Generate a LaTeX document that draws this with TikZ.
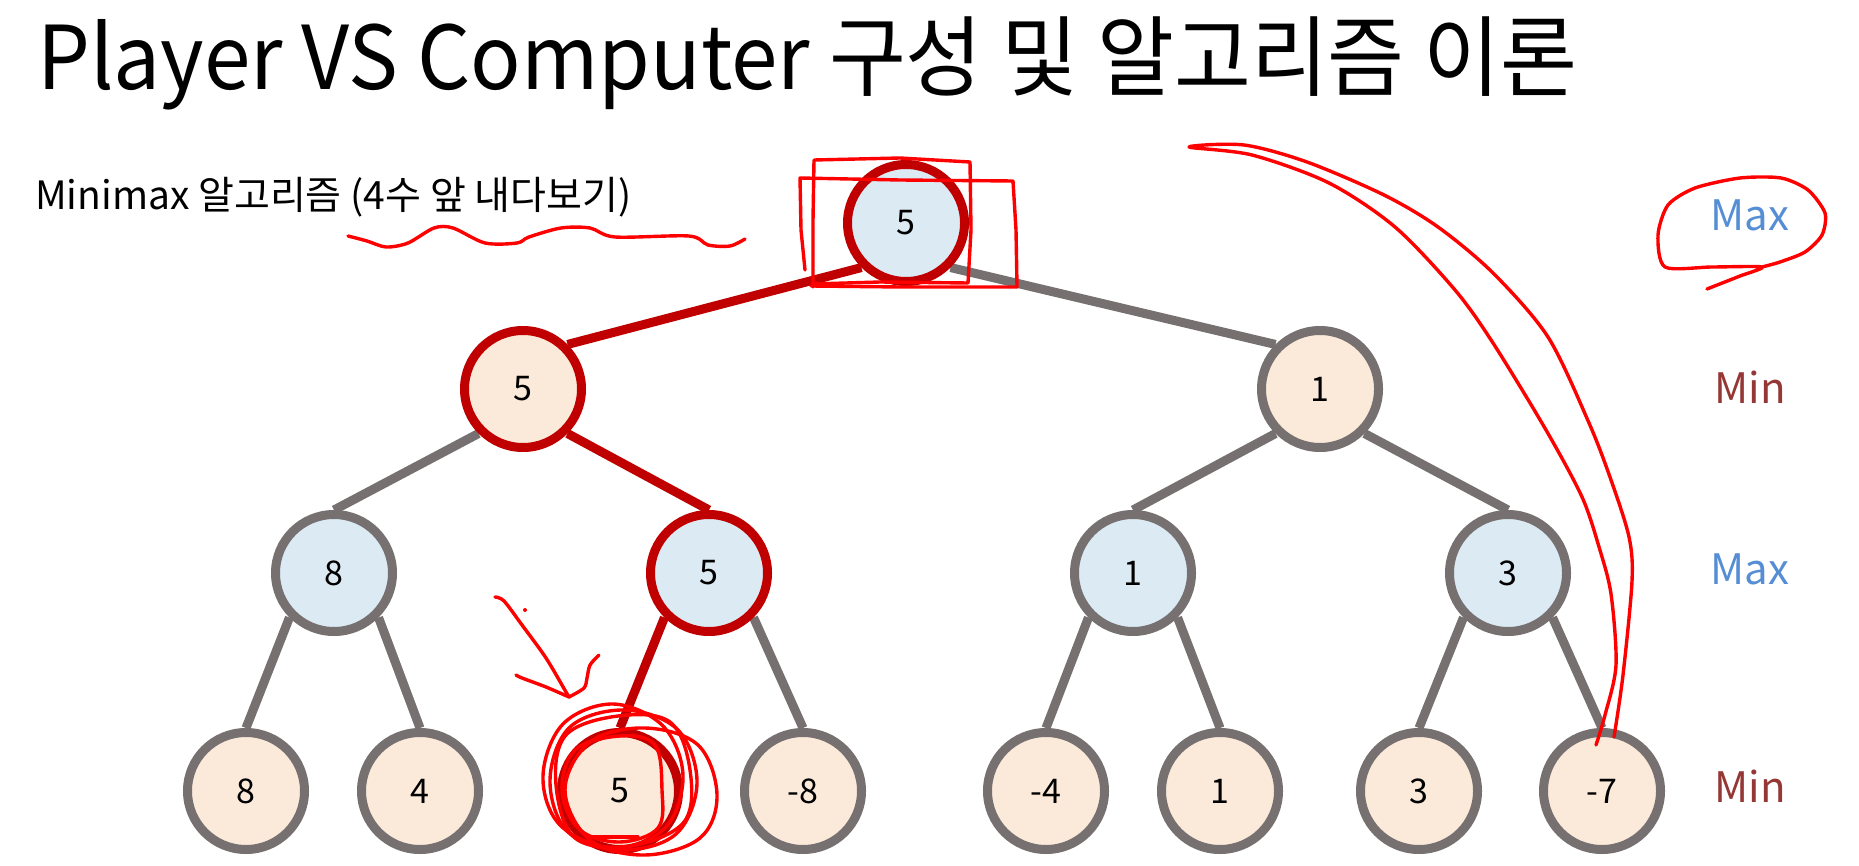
\documentclass[tikz,border=0pt]{standalone}
\usepackage{fontspec}
\setmainfont{Noto Sans CJK KR}
\usetikzlibrary{backgrounds}
\definecolor{graybd}{RGB}{118,112,112}
\definecolor{maxfill}{RGB}{219,234,243}
\definecolor{minfill}{RGB}{251,234,218}
\definecolor{hlred}{RGB}{192,0,0}
\definecolor{penred}{RGB}{255,0,0}
\definecolor{maxtxt}{RGB}{85,142,213}
\definecolor{mintxt}{RGB}{149,55,53}
\begin{document}
\begin{tikzpicture}[x=1pt,y=-1pt,
  tnode/.style={circle, minimum size=117pt, inner sep=0pt, line width=9pt, draw=graybd, font=\fontsize{34}{40}\selectfont},
  maxn/.style={tnode, fill=maxfill},
  minn/.style={tnode, fill=minfill},
  hl/.style={draw=hlred},
  link/.style={line width=9pt, draw=graybd},
  hllink/.style={line width=9pt, draw=hlred},
  pen/.style={draw=penred, line width=3.4pt, line cap=round, line join=round},
  maxlbl/.style={font=\fontsize{42}{50}\selectfont, anchor=base, text=maxtxt, inner sep=0pt},
  minlbl/.style={font=\fontsize{42}{50}\selectfont, anchor=base, text=mintxt, inner sep=0pt},
]
\useasboundingbox (0,0) rectangle (1859,866);

% title
\node[anchor=base west, inner sep=0pt, font=\fontsize{88}{100}\selectfont] (title) at (37,90) {\scalebox{0.95}[1]{Player VS Computer 구성 및 알고리즘 이론}};
\node[anchor=base west, inner sep=0pt, font=\fontsize{39}{46}\selectfont] (sub) at (35,210) {Minimax 알고리즘 (4수 앞 내다보기)};

% nodes
\node[maxn, hl] (r) at (906,223) {5};
\node[minn, hl] (a) at (523,389) {5};
\node[minn] (b) at (1320,389) {1};
\node[maxn] (a1) at (334,573) {8};
\node[maxn, hl] (a2) at (709,573) {5};
\node[maxn] (b1) at (1133,573) {1};
\node[maxn] (b2) at (1508,573) {3};
\node[minn] (l1) at (246,791) {8};
\node[minn] (l2) at (420,791) {4};
\node[minn, hl] (l3) at (620,791) {5};
\node[minn] (l4) at (803,791) {-8};
\node[minn] (l5) at (1046,791) {-4};
\node[minn] (l6) at (1220,791) {1};
\node[minn] (l7) at (1419,791) {3};
\node[minn] (l8) at (1602,791) {-7};

% level labels
\node[maxlbl] (m1) at (1750,231) {Max};
\node[minlbl] (m2) at (1750,403) {Min};
\node[maxlbl] (m3) at (1750,584) {Max};
\node[minlbl] (m4) at (1750,802) {Min};

\begin{scope}[on background layer]
\fill[white] (0,0) rectangle (1859,866);
\draw[hllink] (r.south west) -- (a.north east);
\draw[link] (r.south east) -- (b.north west);
\draw[link] (a.south west) -- (a1.north);
\draw[hllink] (a.south east) -- (a2.north);
\draw[link] (b.south west) -- (b1.north);
\draw[link] (b.south east) -- (b2.north);
\draw[link] (a1.south west) -- (l1.north);
\draw[link] (a1.south east) -- (l2.north);
\draw[hllink] (a2.south west) -- (l3.north);
\draw[link] (a2.south east) -- (l4.north);
\draw[link] (b1.south west) -- (l5.north);
\draw[link] (b1.south east) -- (l6.north);
\draw[link] (b2.south west) -- (l7.north);
\draw[link] (b2.south east) -- (l8.north);
\end{scope}

% hand-drawn annotations
% squiggle under subtitle
\draw[pen] plot[smooth, tension=0.5] coordinates {(348,236) (367,241) (386,247) (408,243) (434,228) (453,228) (485,243) (517,243) (529,237) (561,228) (590,228) (615,237) (689,236) (708,245) (730,246) (745,239)};
% rectangles around root
\draw[pen] (813,287) -- (813,220) -- (814,160) -- (900,158) -- (970,162) -- (971,230) -- (968,283) -- (880,282) -- (812,284);
\draw[pen] (805,270) -- (801,230) -- (800,178) -- (900,180) -- (1013,181) -- (1016,230) -- (1017,287) -- (900,287) -- (811,286);
% long arc towards -7
\draw[pen] plot[smooth, tension=0.5] coordinates {(1596,745) (1605,715) (1616,665) (1611,594) (1599,547) (1582,497) (1546,430) (1493,343) (1455,290) (1395,227) (1329,183) (1252,155) (1189,147) (1244,145) (1307,162) (1384,195) (1438,227) (1493,273) (1548,337) (1589,423) (1611,480) (1629,537) (1632,581) (1623,675) (1614,737)};
% loop around top Max
\draw[pen] plot[smooth, tension=0.45] coordinates {(1707,289) (1740,276) (1762,267) (1712,267) (1665,267) (1658,235) (1668,205) (1695,188) (1740,178) (1781,178) (1808,190) (1825,213) (1822,235) (1805,252) (1780,262) (1762,267)};
% arrow to leaf 5
\draw[pen] plot[smooth, tension=0.5] coordinates {(495,597) (504,601) (522,625) (546,658) (566,692) (569,697)};
\draw[pen] plot[smooth, tension=0.5] coordinates {(516,675) (522,678) (546,687) (569,697)};
\draw[pen] plot[smooth, tension=0.5] coordinates {(599,655) (590,665) (587,678) (584,688) (569,697)};
\fill[penred] (525,610) circle (2);
% scribbles around leaf 5
\draw[pen] plot[smooth cycle, tension=0.6] coordinates {(683,776) (663,726) (613,704) (563,724) (543,776) (560,825) (613,848) (665,828)};
\draw[pen] plot[smooth cycle, tension=0.6] coordinates {(717,795) (698,745) (645,728) (590,742) (565,790) (590,840) (645,855) (700,838)};
\draw[pen] plot[smooth cycle, tension=0.6] coordinates {(697,783) (678,730) (625,710) (570,727) (550,780) (568,832) (622,850) (676,834)};
\draw[pen] plot[smooth cycle, tension=0.6] coordinates {(662,790) (655,745) (620,736) (575,750) (562,792) (580,830) (620,842) (658,828)};
\draw[pen] plot[smooth cycle, tension=0.6] coordinates {(690,770) (670,722) (618,716) (566,735) (556,785) (575,838) (630,846) (684,822)};
\draw[pen] (590,837) -- (638,837);
\end{tikzpicture}
\end{document}
